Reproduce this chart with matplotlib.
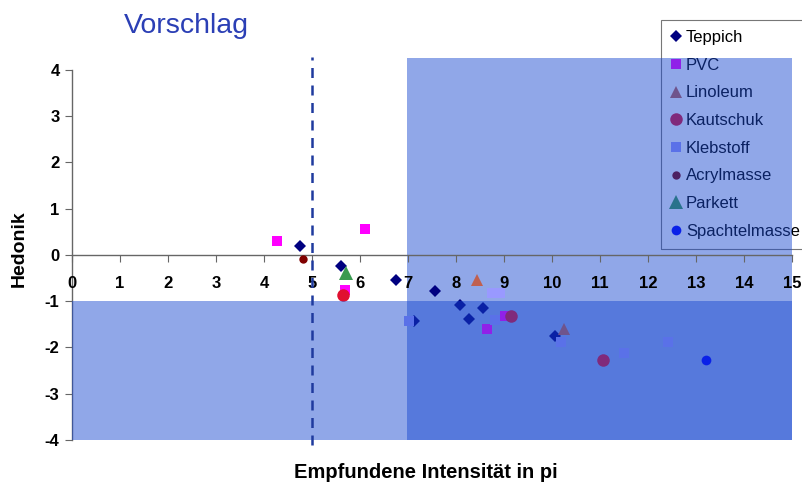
import matplotlib
matplotlib.use("Agg")
import matplotlib.pyplot as plt
from matplotlib.patches import Rectangle

plt.rcParams['font.family'] = ['Liberation Sans', 'DejaVu Sans']
plt.rcParams['axes.unicode_minus'] = False

# Messwerte je Material (x = empfundene Intensität, y = Hedonik)
teppich_x = [4.76, 5.60, 6.75, 7.57, 8.09, 8.57, 8.27, 7.12, 10.06]
teppich_y = [0.19, -0.23, -0.55, -0.78, -1.08, -1.14, -1.39, -1.42, -1.76]
pvc_x = [4.27, 6.10, 5.68, 8.64, 9.02]
pvc_y = [0.31, 0.57, -0.76, -1.61, -1.33]
linoleum_x = [8.44, 10.26]
linoleum_y = [-0.55, -1.61]
kautschuk_x = [5.64, 9.15, 11.07]
kautschuk_y = [-0.86, -1.32, -2.27]
klebstoff_x = [8.75, 8.92, 8.81, 7.02, 10.19, 11.49, 12.42]
klebstoff_y = [-0.83, -0.83, -1.41, -1.42, -1.89, -2.13, -1.89]
acryl_x = [4.81]
acryl_y = [-0.09]
parkett_x = [5.71]
parkett_y = [-0.40]
spachtel_x = [13.20]
spachtel_y = [-2.27]

series = [
    ("Teppich", teppich_x, teppich_y, "D", "#000080", 6),
    ("PVC", pvc_x, pvc_y, "s", "#FF00FF", 7),
    ("Linoleum", linoleum_x, linoleum_y, "^", "#C06050", 8),
    ("Kautschuk", kautschuk_x, kautschuk_y, "o", "#E01030", 9),
    ("Klebstoff", klebstoff_x, klebstoff_y, "s", "#9999FF", 7),
    ("Acrylmasse", acryl_x, acryl_y, "o", "#800000", 6),
    ("Parkett", parkett_x, parkett_y, "^", "#3A9A50", 10),
    ("Spachtelmasse", spachtel_x, spachtel_y, "o", "#0000FF", 7),
]

fig = plt.figure(figsize=(8.02, 4.88), dpi=100)
ax = fig.add_axes([0.0898, 0.0984, 0.8977, 0.7868])
ax.set_xlim(0, 15)
ax.set_ylim(-4, 4.3)
ax.set_axisbelow(False)

for name, xs, ys, m, c, s in series:
    ax.plot(xs, ys, linestyle="none", marker=m, color=c, markersize=s,
            markeredgewidth=0, label=name, zorder=3)

# halbtransparente Flächen
rect_blue = (0.09, 0.28, 0.81)
ax.add_patch(Rectangle((6.97, -4), 15 - 6.97, 8.25, color=rect_blue,
                       alpha=0.48, lw=0, zorder=2))
ax.add_patch(Rectangle((0, -4), 15, 3, color=rect_blue,
                       alpha=0.48, lw=0, zorder=4))

ax.plot([5, 5], [-4.1, 4.27], linestyle=(0, (4, 3)), color="#1F3A9E",
        lw=1.8, zorder=5, clip_on=False)

# Achsen
ax.spines['top'].set_visible(False)
ax.spines['right'].set_visible(False)
ax.spines['bottom'].set_position(('data', 0))
ax.spines['left'].set_bounds(-4, 4)
for sp in ('left', 'bottom'):
    ax.spines[sp].set_color('#666666')
    ax.spines[sp].set_linewidth(1.0)

ax.set_xticks(range(0, 16))
ax.set_yticks(range(-4, 5))
ax.tick_params(axis='x', direction='out', length=5, pad=10, color='#666666',
               labelsize=12)
ax.tick_params(axis='y', direction='out', length=5, pad=4, color='#666666',
               labelsize=12)
for lbl in ax.get_xticklabels() + ax.get_yticklabels():
    lbl.set_fontweight('bold')

fig.text(0.024, 0.49, "Hedonik", rotation=90, fontsize=14,
         fontweight='bold', ha='center', va='center')
fig.text(0.531, 0.031, "Empfundene Intensität in pi", fontsize=14.5,
         fontweight='bold', ha='center', va='center')
fig.text(0.154, 0.947, "Vorschlag", fontsize=20.5, color="#2B3FB5",
         ha='left', va='center')

leg = ax.legend(loc='upper left', bbox_to_anchor=(0.824, 0.959),
                bbox_transform=fig.transFigure, fontsize=12,
                frameon=True, fancybox=False, facecolor='none',
                edgecolor='#555555', handlelength=0.6, handletextpad=0.3,
                labelspacing=0.76, borderpad=0.6, borderaxespad=0)
leg.get_frame().set_linewidth(0.8)
leg.set_zorder(1.5)

fig.savefig("out.png", dpi=100, facecolor="white")
